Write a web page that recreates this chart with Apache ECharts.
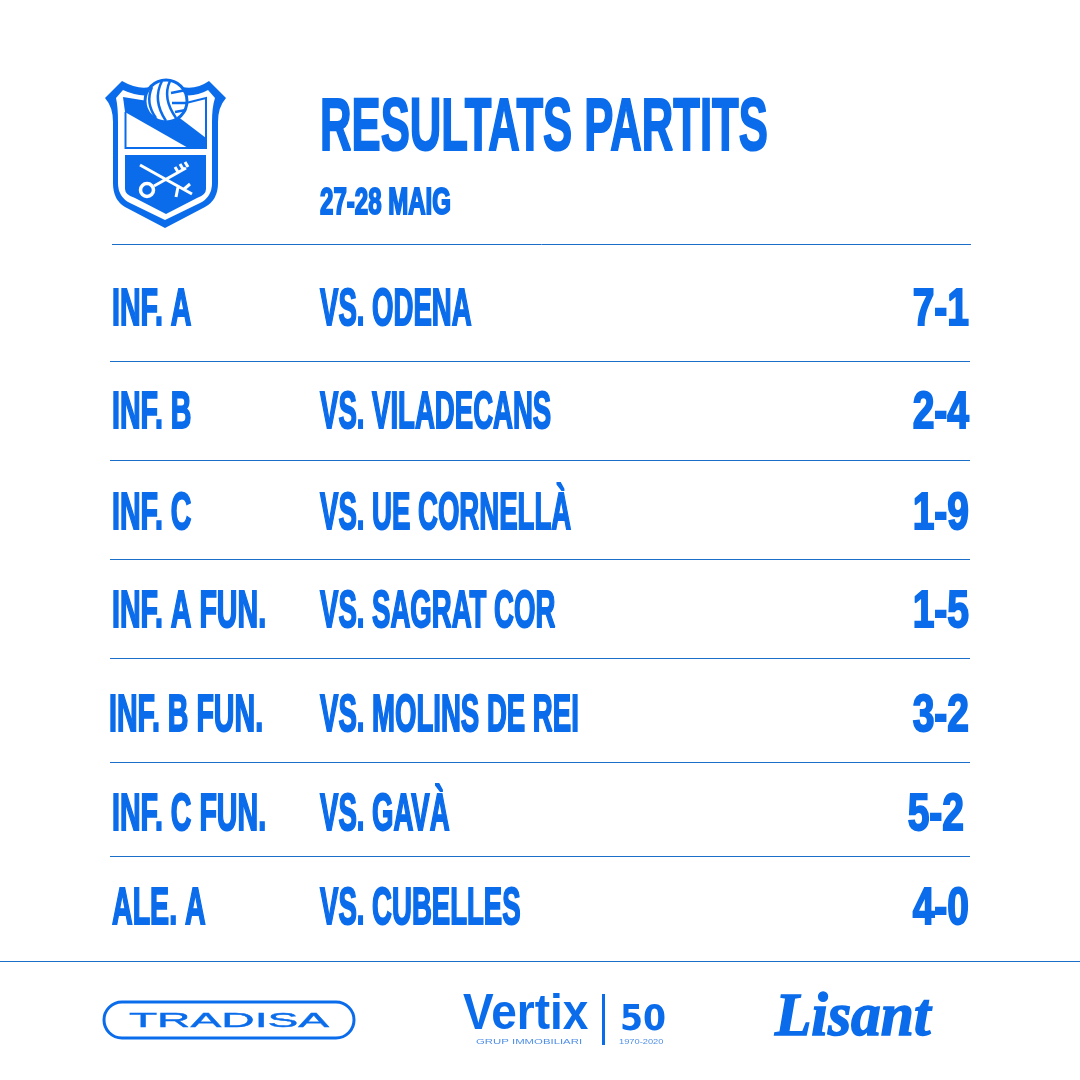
<!DOCTYPE html>
<html>
<head>
<meta charset="utf-8">
<style>html,body{margin:0;padding:0;background:#fff}#main{width:1080px;height:1080px}</style>
<script src="https://cdn.jsdelivr.net/npm/echarts@6/dist/echarts.min.js"></script>
</head>
<body>
<div id="main"></div>
<script>
// dades
var teams = ['INF. A', 'INF. B', 'INF. C', 'INF. A FUN.', 'INF. B FUN.', 'INF. C FUN.', 'ALE. A'];
var opponents = ['VS. ODENA', 'VS. VILADECANS', 'VS. UE CORNELLÀ', 'VS. SAGRAT COR', 'VS. MOLINS DE REI', 'VS. GAVÀ', 'VS. CUBELLES'];
var scores = ['7-1', '2-4', '1-9', '1-5', '3-2', '5-2', '4-0'];

var BLUE = '#0A6CEB';
var LINE = '#1C6FC8';
var FONT = '"Liberation Sans Narrow","Liberation Sans",sans-serif';

// the rows of the poster are not quite evenly spaced
var rowNudge = [0, 3, 4, 2, 6, 5, -1];
var scoreNudge = [0, 0, 0, 0, 0, -5, 0];
var teamNudge = [0, 0, 0, 0, -3, 0, 0];

function label(text, x, y, size, sx, align, extra) {
    return {
        type: 'text', x: x, y: y, scaleX: sx, silent: true,
        style: Object.assign({
            text: text, font: 'bold ' + size + 'px ' + FONT, fill: BLUE,
            stroke: BLUE, lineWidth: 2, align: align || 'left', verticalAlign: 'middle'
        }, extra || {})
    };
}

function path(d, fill, stroke, lw) {
    return {
        type: 'path', silent: true, shape: { pathData: d },
        style: { fill: fill || 'none', stroke: stroke || 'none', lineWidth: lw || 0, lineJoin: 'miter' }
    };
}

function rule(x1, x2, y) {
    return { type: 'line', silent: true, shape: { x1: x1, y1: y, x2: x2, y2: y }, style: { stroke: LINE, lineWidth: 1 } };
}

var crest = [
    path('M105,98 L122,81 Q138,90 150,87 L182,87 Q196,90 209,81 L226,98 Q218,107 218,122 L218,183 Q218,200 205,207 L165,228 L125,207 Q113,200 113,183 L113,122 Q113,107 105,98 Z', BLUE),
    path('M116,98 L123,90 Q138,97 150,95 L182,95 Q196,97 208,90 L215,98 Q212,107 212,122 L212,183 Q212,197 200,203 L165,220 L130,203 Q118,197 118,183 L118,122 Q118,107 116,98 Z', '#fff'),
    path('M125.5,112 L125.5,148 L206,148 L206,98 L186,103', 'none', BLUE, 2),
    path('M123,97 L160,103 L206,138 L206,149 L190,149 L125,112 Z', BLUE),
    path('M125,155 L206,155 L206,189 Q206,195 197,198 L166,214 L135,198 Q125,195 125,189 Z', BLUE),
    // ball
    { type: 'circle', silent: true, shape: { cx: 166, cy: 101, r: 21 }, style: { fill: '#fff', stroke: BLUE, lineWidth: 3 } },
    path('M152,87 Q145,103 156,118 M162,81 Q152,100 166,121 M170,81 Q162,98 176,118 M171,93 L186,90 M172,103 L187,103 M175,112 L186,110', 'none', BLUE, 2.5),
    // keys
    { type: 'circle', silent: true, shape: { cx: 147, cy: 190, r: 6.5 }, style: { fill: 'none', stroke: '#fff', lineWidth: 3.5 } },
    path('M154,186 L186,168 M178,172 L175,167 M183,169 L180,164 M188,167 L185,162 M140,165 L192,194 M178,187 L176,197 M183,190 L190,184', 'none', '#fff', 3)
];

var logos = [
    { type: 'rect', silent: true, shape: { x: 104, y: 1002, width: 250, height: 36, r: 18 }, style: { fill: '#fff', stroke: BLUE, lineWidth: 3 } },
    {
        type: 'text', x: 229, y: 1021, scaleX: 2.2, silent: true,
        style: { text: 'TRADISA', font: '21px "Liberation Sans",sans-serif', fill: BLUE, stroke: BLUE, lineWidth: 0.4, align: 'center', verticalAlign: 'middle' }
    },
    {
        type: 'text', x: 463, y: 1015, scaleX: 0.92, silent: true,
        style: { text: 'Vertix', font: 'bold 50px "Liberation Sans",sans-serif', fill: BLUE, align: 'left', verticalAlign: 'middle' }
    },
    {
        type: 'text', x: 476, y: 1042, scaleX: 1.42, silent: true,
        style: { text: 'GRUP IMMOBILIARI', font: '8px "Liberation Sans",sans-serif', fill: '#4F8FE6', align: 'left', verticalAlign: 'middle' }
    },
    { type: 'rect', silent: true, shape: { x: 602, y: 994, width: 3, height: 51 }, style: { fill: BLUE } },
    {
        type: 'text', x: 620, y: 1021, scaleX: 0.92, silent: true,
        style: { text: '50', font: 'bold 36px "DejaVu Sans",sans-serif', fill: BLUE, align: 'left', verticalAlign: 'middle' }
    },
    {
        type: 'text', x: 619, y: 1042, scaleX: 1.16, silent: true,
        style: { text: '1970-2020', font: '8px "Liberation Sans",sans-serif', fill: '#4F8FE6', align: 'left', verticalAlign: 'middle' }
    },
    {
        type: 'text', x: 775, y: 1019, scaleX: 0.96, silent: true,
        style: { text: 'Lisant', font: 'italic bold 62px "Liberation Serif",serif', fill: BLUE, stroke: BLUE, lineWidth: 1.5, align: 'left', verticalAlign: 'middle' }
    }
];

var rules = [
    rule(112, 971, 244.5), rule(110, 970, 361.5), rule(110, 970, 460.5), rule(110, 970, 559.5),
    rule(110, 970, 658.5), rule(110, 970, 762.5), rule(110, 970, 856.5), rule(0, 1080, 961.5)
];

var chart = echarts.init(document.getElementById('main'), null, { renderer: 'canvas' });
chart.setOption({
    animation: false,
    backgroundColor: '#fff',
    grid: { left: 0, right: 0, top: 261, height: 700 },
    xAxis: { type: 'value', min: 0, max: 1080, show: false },
    yAxis: { type: 'category', inverse: true, data: teams, show: false },
    graphic: {
        elements: rules.concat(logos, [
            label('RESULTATS PARTITS', 320, 130, 74, 0.59),
            label('27-28 MAIG', 320, 204, 37, 0.65)
        ])
    },
    series: [{
        // results table
        type: 'custom',
        silent: true,
        coordinateSystem: 'cartesian2d',
        data: teams.map(function (t, i) { return [0, i]; }),
        renderItem: function (params, api) {
            var i = params.dataIndex;
            var y = api.coord([0, i])[1] + rowNudge[i];
            return {
                type: 'group',
                children: [
                    label(teams[i], api.coord([112 + teamNudge[i], i])[0], y, 52, 0.55),
                    label(opponents[i], api.coord([320, i])[0], y, 52, 0.53),
                    label(scores[i], api.coord([969 + scoreNudge[i], i])[0], y, 52, 0.75, 'right')
                ]
            };
        }
    }, {
        // club badge
        type: 'custom',
        silent: true,
        coordinateSystem: 'none',
        data: [0],
        renderItem: function () {
            return { type: 'group', children: crest };
        }
    }]
});
</script>
</body>
</html>
